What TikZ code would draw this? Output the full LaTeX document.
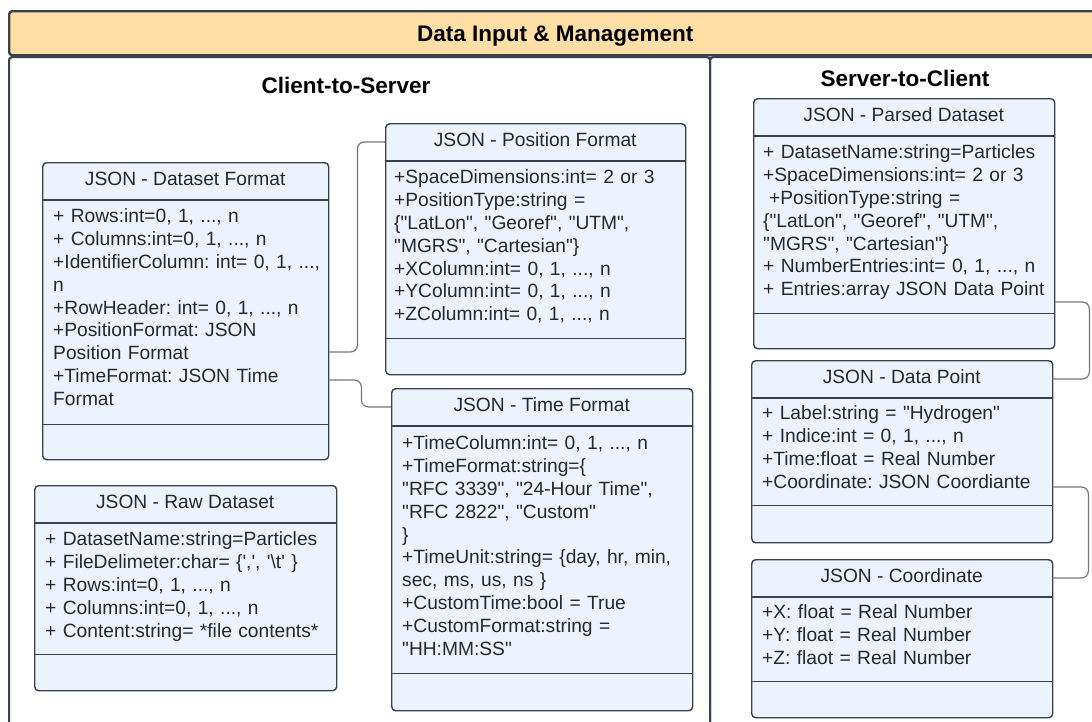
\documentclass[tikz,border=0pt]{standalone}
\usepackage{fontspec}
\setmainfont{Liberation Sans}[Ligatures=TeXOff]
\definecolor{bandfill}{RGB}{255,223,166}
\definecolor{boxfill}{RGB}{237,243,254}
\definecolor{edge}{RGB}{58,65,74}
\definecolor{wire}{RGB}{118,118,118}
\definecolor{ink}{RGB}{40,40,40}
\newcommand\bigbold{\fontsize{22.5}{27}\selectfont\bfseries}

\begin{document}
\begin{tikzpicture}[x=1pt, y=-1pt, font=\fontsize{19.2}{22.8}\selectfont\frenchspacing,
  panel/.style={draw=edge, line width=2.2pt, rounded corners=3pt, inner sep=0pt, anchor=north west},
  classbox/.style={draw=edge, fill=boxfill, line width=1.4pt, rounded corners=4pt,
                   inner sep=0pt, anchor=north west},
  classhead/.style={inner sep=0pt, anchor=north west, minimum height=37.5pt,
                    text height=13.7pt, text depth=5pt, text=ink},
  attrs/.style={inner sep=0pt, anchor=base west, text width=300pt, align=left, text=ink},
  sepline/.style={draw=edge, line width=1.4pt},
  link/.style={draw=wire, line width=1.2pt, rounded corners=7pt}]
\useasboundingbox (0,0) rectangle (1092,721);
% frame
\node[panel, minimum width=701pt, minimum height=700pt] (c2s-panel) at (8,56) {};
\node[panel, minimum width=391pt, minimum height=700pt] (s2c-panel) at (709,56) {};
\node[panel, fill=bandfill, line width=2.4pt, minimum width=1092pt, minimum height=44pt,
      anchor=north west, font=\bigbold, text height=16pt, text depth=0pt] (band) at (8,10)
  {Data Input \& Management};
\node[font=\bigbold] (c2s) at (346,85) {Client-to-Server};
\node[font=\bigbold] (s2c) at (905,78) {Server-to-Client};

% JSON - Dataset Format
\node[classbox, minimum width=286pt, minimum height=297pt] (dsf) at (42,162) {};
\node[classhead, minimum width=286pt] (dsf-head) at (dsf.north west) {JSON - Dataset Format};
\draw[sepline] (dsf-head.south west) -- (dsf-head.south east);
\draw[sepline] ([yshift=36pt]dsf.south west) -- ([yshift=36pt]dsf.south east);
\node[attrs] (dsf-attr) at ([xshift=11pt,yshift=-23pt]dsf-head.south west)
  {+ Rows:int=0, 1, ..., n\\
   + Columns:int=0, 1, ..., n\\
   +IdentifierColumn: int= 0, 1, ...,\\
   n\\
   +RowHeader: int= 0, 1, ..., n\\
   +PositionFormat: JSON\\
   Position Format\\
   +TimeFormat: JSON Time\\
   Format};

% JSON - Position Format
\node[classbox, minimum width=300pt, minimum height=251pt] (pos) at (385,123) {};
\node[classhead, minimum width=300pt] (pos-head) at (pos.north west) {JSON - Position Format};
\draw[sepline] (pos-head.south west) -- (pos-head.south east);
\draw[sepline] ([yshift=37pt]pos.south west) -- ([yshift=37pt]pos.south east);
\node[attrs] (pos-attr) at ([xshift=9pt,yshift=-23pt]pos-head.south west)
  {+SpaceDimensions:int= 2 or 3\\
   +PositionType:string =\\
   \{"LatLon", "Georef", "UTM",\\
   "MGRS", "Cartesian"\}\\
   +XColumn:int= 0, 1, ..., n\\
   +YColumn:int= 0, 1, ..., n\\
   +ZColumn:int= 0, 1, ..., n};

% JSON - Time Format
\node[classbox, minimum width=301pt, minimum height=322pt] (time) at (391,388) {};
\node[classhead, minimum width=301pt] (time-head) at (time.north west) {JSON - Time Format};
\draw[sepline] (time-head.south west) -- (time-head.south east);
\draw[sepline] ([yshift=38pt]time.south west) -- ([yshift=38pt]time.south east);
\node[attrs] (time-attr) at ([xshift=11pt,yshift=-24pt]time-head.south west)
  {+TimeColumn:int= 0, 1, ..., n\\
   +TimeFormat:string=\{\\
   "RFC 3339", "24-Hour Time",\\
   "RFC 2822", "Custom"\\
   \}\\
   +TimeUnit:string= \{day, hr, min,\\
   sec, ms, us, ns \}\\
   +CustomTime:bool = True\\
   +CustomFormat:string =\\
   "HH:MM:SS"};

% JSON - Raw Dataset
\node[classbox, minimum width=302pt, minimum height=205pt] (raw) at (34,485) {};
\node[classhead, minimum width=302pt] (raw-head) at (raw.north west) {JSON - Raw Dataset};
\draw[sepline] (raw-head.south west) -- (raw-head.south east);
\draw[sepline] ([yshift=37pt]raw.south west) -- ([yshift=37pt]raw.south east);
\node[attrs] (raw-attr) at ([xshift=11pt,yshift=-23pt]raw-head.south west)
  {+ DatasetName:string=Particles\\
   + FileDelimeter:char= \{\textquotesingle,\textquotesingle, \textquotesingle\textbackslash t\textquotesingle{} \}\\
   + Rows:int=0, 1, ..., n\\
   + Columns:int=0, 1, ..., n\\
   + Content:string= *file contents*};

% JSON - Parsed Dataset
\node[classbox, minimum width=301pt, minimum height=250pt] (parsed) at (753,98) {};
\node[classhead, minimum width=301pt] (parsed-head) at (parsed.north west) {JSON - Parsed Dataset};
\draw[sepline] (parsed-head.south west) -- (parsed-head.south east);
\draw[sepline] ([yshift=36pt]parsed.south west) -- ([yshift=36pt]parsed.south east);
\node[attrs] (parsed-attr) at ([xshift=10pt,yshift=-23pt]parsed-head.south west)
  {+ DatasetName:string=Particles\\
   +SpaceDimensions:int= 2 or 3\\
   \hspace*{6pt}+PositionType:string =\\
   \{"LatLon", "Georef", "UTM",\\
   "MGRS", "Cartesian"\}\\
   + NumberEntries:int= 0, 1, ..., n\\
   + Entries:array JSON Data Point};

% JSON - Data Point
\node[classbox, minimum width=301pt, minimum height=182pt] (dpt) at (751,360) {};
\node[classhead, minimum width=301pt] (dpt-head) at (dpt.north west) {JSON - Data Point};
\draw[sepline] (dpt-head.south west) -- (dpt-head.south east);
\draw[sepline] ([yshift=38pt]dpt.south west) -- ([yshift=38pt]dpt.south east);
\node[attrs] (dpt-attr) at ([xshift=11pt,yshift=-22pt]dpt-head.south west)
  {+ Label:string = "Hydrogen"\\
   + Indice:int = 0, 1, ..., n\\
   +Time:float = Real Number\\
   +Coordinate: JSON Coordiante};

% JSON - Coordinate
\node[classbox, minimum width=301pt, minimum height=158pt] (coord) at (751,559) {};
\node[classhead, minimum width=301pt] (coord-head) at (coord.north west) {JSON - Coordinate};
\draw[sepline] (coord-head.south west) -- (coord-head.south east);
\draw[sepline] ([yshift=37pt]coord.south west) -- ([yshift=37pt]coord.south east);
\node[attrs] (coord-attr) at ([xshift=11pt,yshift=-22pt]coord-head.south west)
  {+X: float = Real Number\\
   +Y: float = Real Number\\
   +Z: flaot = Real Number};

% links
\draw[link] (dsf.east |- 0,352) -- ++(28,0) |- (pos-head.west);
\draw[link] (dsf.east |- 0,380) -- ++(32,0) |- (time-head.west);
\draw[link] (parsed.east |- 0,302) -- ++(34,0) |- (dpt-head.east);
\draw[link] (dpt.east |- 0,487) -- ++(35,0) |- (coord-head.east);
\end{tikzpicture}
\end{document}
